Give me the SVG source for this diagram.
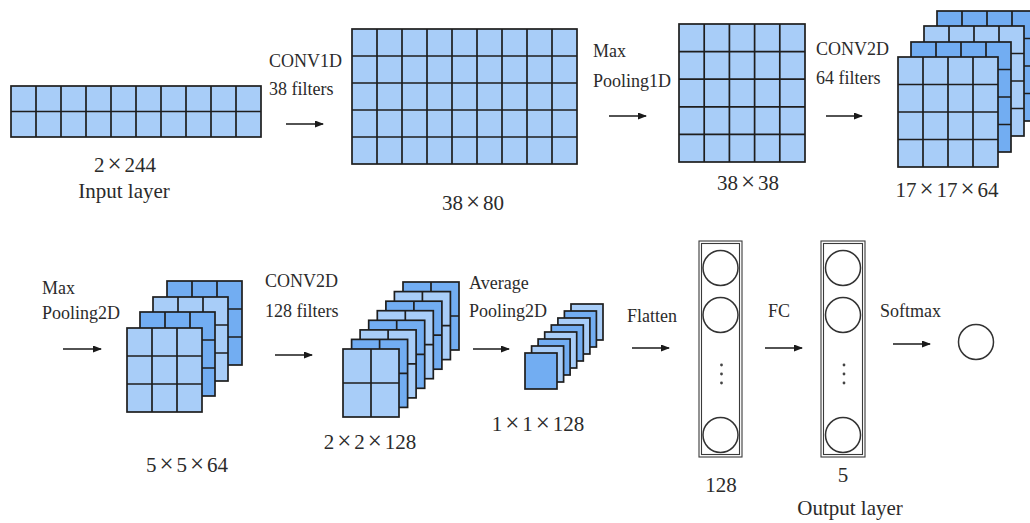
<svg xmlns="http://www.w3.org/2000/svg" xmlns:xlink="http://www.w3.org/1999/xlink" width="1030" height="523" viewBox="0 0 1030 523">
  <style>
    text { font-family: "Liberation Serif", "Times New Roman", serif; fill: #2b2b2b; }
    .op { font-size: 18px; }
    .dim { font-size: 21px; text-anchor: middle; }
    .x { font-size: 25px; }
    .g rect, .g path { stroke: #1e1e1e; stroke-width: 1.7; }
    .g path { fill: none; }
    .lt { fill: #a8cdf8; }
    .dk { fill: #72adf2; }
    .arrow { stroke: #1a1a1a; stroke-width: 1.6; fill: none; marker-end: url(#ah); }
    .box { fill: none; stroke: #3a3a3a; stroke-width: 1.1; }
    .neuron { fill: #ffffff; stroke: #333333; stroke-width: 1.5; }
    .dot { fill: #444444; }
  </style>
  <defs>
    <marker id="ah" markerUnits="userSpaceOnUse" markerWidth="10" markerHeight="8" refX="8" refY="3.5" orient="auto">
      <path d="M0,0 L9,3.5 L0,7 Z" fill="#1a1a1a"/>
    </marker>
    <!-- feature-map slices; fill comes from the class on each <use> -->
    <g id="m17" class="g">
      <rect x="0" y="0" width="100" height="110"/>
      <path d="M25,0V110M50,0V110M75,0V110M0,27.5H100M0,55H100M0,82.5H100"/>
    </g>
    <g id="m5" class="g">
      <rect x="0" y="0" width="75" height="84"/>
      <path d="M25,0V84M50,0V84M0,28H75M0,56H75"/>
    </g>
    <g id="m2" class="g">
      <rect x="0" y="0" width="56" height="68"/>
      <path d="M28,0V68M0,34H56"/>
    </g>
    <g id="m1" class="g">
      <rect x="0" y="0" width="32" height="36"/>
    </g>
  </defs>

  <rect width="1030" height="523" fill="#ffffff"/>

  <!-- input layer 2x244 -->
  <g id="input">
    <g class="g">
      <rect class="lt" x="11" y="86" width="250" height="51"/>
      <path d="M36,86V137M61,86V137M86,86V137M111,86V137M136,86V137M161,86V137M186,86V137M211,86V137M236,86V137M11,111.5H261"/>
    </g>
    <text class="dim" x="125" y="172">2<tspan class="x" dx="3">×</tspan><tspan dx="3">244</tspan></text>
    <text class="dim" x="124" y="198">Input layer</text>
  </g>

  <!-- conv1d output 38x80 -->
  <g id="conv1d">
    <g class="g">
      <rect class="lt" x="352" y="29" width="225" height="135"/>
      <path d="M377,29V164M402,29V164M427,29V164M452,29V164M477,29V164M502,29V164M527,29V164M552,29V164M352,56H577M352,83H577M352,110H577M352,137H577"/>
    </g>
    <text class="dim" x="473" y="210">38<tspan class="x" dx="3">×</tspan><tspan dx="3">80</tspan></text>
  </g>

  <!-- max pooling 1d output 38x38 -->
  <g id="pool1d">
    <g class="g">
      <rect class="lt" x="679" y="24" width="126" height="138"/>
      <path d="M704.2,24V162M729.4,24V162M754.6,24V162M779.8,24V162M679,51.6H805M679,79.2H805M679,106.8H805M679,134.4H805"/>
    </g>
    <text class="dim" x="748" y="190">38<tspan class="x" dx="3">×</tspan><tspan dx="3">38</tspan></text>
  </g>

  <!-- conv2d output 17x17x64 -->
  <g id="conv2d-64">
    <use href="#m17" x="937" y="11" class="dk"/>
    <use href="#m17" x="924" y="26" class="lt"/>
    <use href="#m17" x="911" y="42" class="dk"/>
    <use href="#m17" x="898" y="57" class="lt"/>
    <text class="dim" x="947" y="197">17<tspan class="x" dx="3">×</tspan><tspan dx="3">17</tspan><tspan class="x" dx="3">×</tspan><tspan dx="3">64</tspan></text>
  </g>

  <!-- max pooling 2d output 5x5x64 -->
  <g id="pool2d">
    <use href="#m5" x="167" y="281" class="dk"/>
    <use href="#m5" x="153" y="297" class="lt"/>
    <use href="#m5" x="140" y="312" class="dk"/>
    <use href="#m5" x="127" y="328" class="lt"/>
    <text class="dim" x="187" y="472">5<tspan class="x" dx="3">×</tspan><tspan dx="3">5</tspan><tspan class="x" dx="3">×</tspan><tspan dx="3">64</tspan></text>
  </g>

  <!-- conv2d output 2x2x128 -->
  <g id="conv2d-128">
    <use href="#m2" x="403" y="282" class="dk"/>
    <use href="#m2" x="394.4" y="291.6" class="lt"/>
    <use href="#m2" x="385.9" y="301.2" class="dk"/>
    <use href="#m2" x="377.3" y="310.7" class="lt"/>
    <use href="#m2" x="368.7" y="320.3" class="dk"/>
    <use href="#m2" x="360.1" y="329.9" class="lt"/>
    <use href="#m2" x="351.6" y="339.4" class="dk"/>
    <use href="#m2" x="343" y="349" class="lt"/>
    <text class="dim" x="370" y="449">2<tspan class="x" dx="3">×</tspan><tspan dx="3">2</tspan><tspan class="x" dx="3">×</tspan><tspan dx="3">128</tspan></text>
  </g>

  <!-- average pooling output 1x1x128 -->
  <g id="avgpool">
    <use href="#m1" x="571" y="304" class="lt"/>
    <use href="#m1" x="564.4" y="311" class="dk"/>
    <use href="#m1" x="557.9" y="318" class="lt"/>
    <use href="#m1" x="551.3" y="325" class="dk"/>
    <use href="#m1" x="544.7" y="332" class="lt"/>
    <use href="#m1" x="538.1" y="339" class="dk"/>
    <use href="#m1" x="531.6" y="346" class="lt"/>
    <use href="#m1" x="525" y="353" class="dk"/>
    <text class="dim" x="538" y="431">1<tspan class="x" dx="3">×</tspan><tspan dx="3">1</tspan><tspan class="x" dx="3">×</tspan><tspan dx="3">128</tspan></text>
  </g>

  <!-- flattened vector, 128 units -->
  <g id="flatten">
    <rect class="box" x="699" y="241" width="43" height="216"/>
    <rect class="box" x="701.5" y="243.5" width="38" height="211"/>
    <circle class="neuron" cx="720.5" cy="268" r="17.5"/>
    <circle class="neuron" cx="720.5" cy="315" r="17.5"/>
    <circle class="neuron" cx="720.5" cy="435" r="17.5"/>
    <circle class="dot" cx="721.5" cy="365" r="1.4"/>
    <circle class="dot" cx="721.5" cy="374" r="1.4"/>
    <circle class="dot" cx="721.5" cy="383" r="1.4"/>
    <text class="dim" x="721" y="492">128</text>
  </g>

  <!-- fully connected output layer, 5 units -->
  <g id="fc">
    <rect class="box" x="821" y="241" width="44" height="216"/>
    <rect class="box" x="823.5" y="243.5" width="39" height="211"/>
    <circle class="neuron" cx="843" cy="268" r="17.5"/>
    <circle class="neuron" cx="843" cy="315" r="17.5"/>
    <circle class="neuron" cx="843" cy="435" r="17.5"/>
    <circle class="dot" cx="844" cy="365" r="1.4"/>
    <circle class="dot" cx="844" cy="374" r="1.4"/>
    <circle class="dot" cx="844" cy="383" r="1.4"/>
    <text class="dim" x="843" y="482">5</text>
    <text class="dim" x="850" y="515">Output layer</text>
  </g>

  <!-- softmax output -->
  <g id="softmax">
    <circle class="neuron" cx="976" cy="342" r="17.5"/>
  </g>

  <!-- operations between stages -->
  <g id="connectors">
    <line class="arrow" x1="286" y1="124" x2="323" y2="124"/>
    <line class="arrow" x1="609" y1="116" x2="646" y2="116"/>
    <line class="arrow" x1="826" y1="116" x2="862" y2="116"/>
    <line class="arrow" x1="63" y1="349" x2="101" y2="349"/>
    <line class="arrow" x1="275" y1="355" x2="312" y2="355"/>
    <line class="arrow" x1="473" y1="349" x2="509" y2="349"/>
    <line class="arrow" x1="632" y1="348" x2="669" y2="348"/>
    <line class="arrow" x1="765" y1="348" x2="802" y2="348"/>
    <line class="arrow" x1="893" y1="344" x2="930" y2="344"/>

    <text class="op" x="269" y="67">CONV1D</text>
    <text class="op" x="269" y="95">38 filters</text>
    <text class="op" x="593" y="57">Max</text>
    <text class="op" x="593" y="87">Pooling1D</text>
    <text class="op" x="816" y="55">CONV2D</text>
    <text class="op" x="816" y="84">64 filters</text>
    <text class="op" x="42" y="294">Max</text>
    <text class="op" x="42" y="319">Pooling2D</text>
    <text class="op" x="265" y="287">CONV2D</text>
    <text class="op" x="265" y="317">128 filters</text>
    <text class="op" x="469" y="289">Average</text>
    <text class="op" x="469" y="317">Pooling2D</text>
    <text class="op" x="627" y="322">Flatten</text>
    <text class="op" x="768" y="317">FC</text>
    <text class="op" x="880" y="317">Softmax</text>
  </g>
</svg>
